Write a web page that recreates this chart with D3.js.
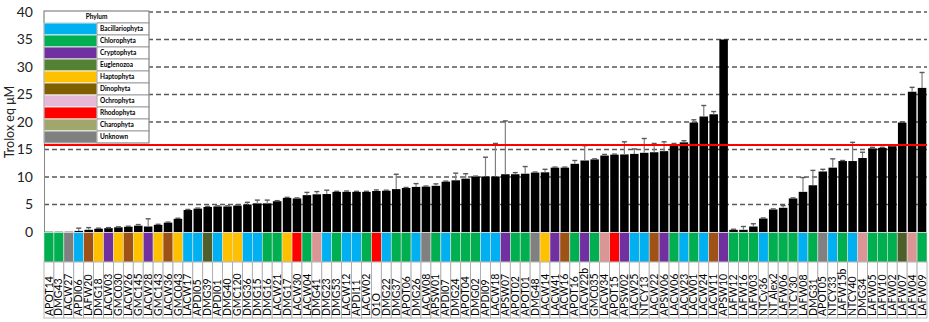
<!DOCTYPE html>
<html>
<head>
<meta charset="utf-8">
<script src="https://cdn.jsdelivr.net/npm/d3@7/dist/d3.min.js"></script>
<style>
  html, body { margin: 0; padding: 0; background: #fff; }
  svg { display: block; }
</style>
</head>
<body>
<svg id="chart" width="929" height="322"></svg>
<script>
// Strains, ordered as plotted
const categories = [
  "APOT14","DMG43","LACW27","APDI06","LAFW20","DMG18","LACW03","GMC030","LACW26","GMC145",
  "LACW28","GMC143","LACW36","GMC043","LACW17","APDI05","DMG39","APDI01","DMG40","GMC120",
  "DMG36","DMG15","DMG16","LACW21","DMG17","LACW30","LACW04","DMG41","DMG23","DMG53",
  "LACW12","APDI11","LACW02","O1O","DMG22","DMG37","APOT06","DMG26","LACW08","APSW01",
  "APDI07","DMG24","APOT04","DMG02","APDI09","LACW18","APSW07","APOT02","APOT01","DMG48",
  "LACW14","LACW41","LACW16","APOT16","LACW22b","GMC035","LACW34","APOT15","APSW02","LACW25",
  "NTCY13","LACW22","APSW06","LACW06","LACW23","LACW01","LACW24","LACW11","APSW10","LAFW12",
  "LAFW16","LAFW03","NTCy36","NT Alex2","LAFW06","NTCY30","LAFW08","DMG31","APOT05","NTCY33",
  "LAFW15b","NTCY40","DMG34","LAFW05","LAFW10","LAFW02","LAFW07","LAFW04","LAFW09"
];

// Antioxidant capacity, Trolox equivalents (µM)
const values = [
  0.05,0.05,0.05,0.2,0.4,0.6,0.7,0.85,0.95,1.15,
  1.0,1.3,1.7,2.4,4.0,4.25,4.55,4.65,4.65,4.8,
  5.0,5.2,5.2,5.6,6.2,6.1,6.7,6.85,6.9,7.3,
  7.3,7.3,7.3,7.45,7.5,7.8,8.0,8.2,8.25,8.4,
  9.15,9.4,9.7,10.06,10.1,10.1,10.5,10.5,10.6,10.8,
  10.85,11.7,11.7,12.4,13.0,13.2,13.9,14.06,14.1,14.2,
  14.4,14.5,14.7,16.0,16.3,19.9,21.0,21.4,35.0,0.4,
  0.4,1.0,2.45,4.1,4.4,6.1,7.3,8.5,11.0,11.7,
  12.9,12.9,13.45,15.2,15.3,15.6,19.9,25.5,26.2
];

// Standard deviation
const errors = [
  0,0,0,0.5,0.4,0.1,0.1,0.1,0.1,0.2,
  1.4,0.1,0.1,0.1,0.1,0.1,0.1,0.1,0.1,0.1,
  0.4,0.6,0.6,0.1,0.1,0.1,0.5,0.5,0.7,0.1,
  0.15,0.1,0.1,0.2,0.1,2.7,0.1,0.6,0.1,0.35,
  0.1,1.3,0.9,0.1,3.5,6.0,9.7,0.3,1.3,0.1,
  0.55,0.1,0.1,0.6,2.7,0.1,0.2,0.1,2.3,0.9,
  2.6,1.6,1.7,0.1,0.3,0.5,2.0,0.5,0,0.1,
  0.6,0.5,0.1,0.1,0.4,0.1,2.6,2.7,0.4,1.6,
  0.1,3.4,1.05,0.2,0.1,0.1,0.1,0.8,2.8
];

// Phylum of each strain
const B = "Bacillariophyta", C = "Chlorophyta", Cr = "Cryptophyta", E = "Euglenozoa",
      Hp = "Haptophyta", D = "Dinophyta", O = "Ochrophyta", R = "Rhodophyta",
      Ch = "Charophyta", U = "Unknown";
const phylum = [
  C,C,U,B,D,Hp,Cr,Hp,D,Hp,
  Cr,Hp,D,Hp,B,B,E,B,Hp,Hp,
  B,B,C,C,Hp,R,C,O,B,C,
  B,B,C,R,B,C,C,B,U,C,
  B,C,C,C,B,B,Cr,C,C,U,
  Hp,Cr,D,C,Cr,C,O,R,Cr,B,
  B,D,Cr,C,B,C,B,D,Cr,C,
  C,C,B,C,C,C,B,C,U,B,
  C,B,O,C,C,C,E,O,C
];

const phyla = [B, C, Cr, E, Hp, D, O, R, Ch, U];
const yTicks = [0,5,10,15,20,25,30,35,40];
const threshold = 15.8;

// Colours: legend swatches and the phylum strip under the bars
const legendColor = {
  [B]:"#00B0F0",[C]:"#00B050",[Cr]:"#7030A0",[E]:"#548235",[Hp]:"#FFC000",
  [D]:"#7F6000",[O]:"#E6B9D8",[R]:"#FF0000",[Ch]:"#A0A66C",[U]:"#808080"
};
const stripColor = {
  [B]:"#00B0F0",[C]:"#00B050",[Cr]:"#7030A0",[E]:"#4F5F2A",[Hp]:"#FFC000",
  [D]:"#9E5216",[O]:"#DA9694",[R]:"#FF0000",[Ch]:"#A0A66C",[U]:"#808080"
};

const svg = d3.select("#chart");
const plotLeft = 44, plotRight = 927, plotTop = 12, base = 232;
const stripBottom = 262, labelBottom = 318;
const font = "Lato, 'Open Sans', sans-serif";

const x = d3.scaleBand().domain(categories).range([plotLeft, plotRight]).padding(0);
const y = d3.scaleLinear().domain([0, 40]).range([base, plotTop]);
const bw = x.bandwidth();
const inset = 0.7;

const data = categories.map((c, i) => ({ c, v: values[i], e: errors[i], p: phylum[i] }));

// dashed gridlines
svg.append("g").selectAll("line").data(yTicks.filter(t => t > 0)).join("line")
  .attr("x1", plotLeft).attr("x2", plotRight)
  .attr("y1", d => y(d)).attr("y2", d => y(d))
  .attr("stroke", "#595959").attr("stroke-width", 1.3)
  .attr("stroke-dasharray", "5,3");

// y axis
const yAxis = d3.axisLeft(y).tickValues(yTicks).tickSize(0).tickPadding(11);
const ga = svg.append("g").attr("transform", `translate(${plotLeft},0)`).call(yAxis);
ga.select(".domain").attr("stroke", "#868686").attr("stroke-width", 1);
ga.selectAll("text").attr("font-family", font)
  .attr("font-size", 14).attr("fill", "#222");

svg.append("text")
  .attr("transform", `translate(14,${(plotTop + base) / 2}) rotate(-90)`)
  .attr("text-anchor", "middle")
  .attr("font-family", font)
  .attr("font-size", 12.5).attr("fill", "#222")
  .text("Trolox eq μM");

// bars
svg.append("g").selectAll("rect").data(data).join("rect")
  .attr("x", d => x(d.c) + inset)
  .attr("width", bw - 2 * inset)
  .attr("y", d => y(d.v))
  .attr("height", d => base - y(d.v))
  .attr("fill", "#000");

// error bars
const eg = svg.append("g").selectAll("g").data(data.filter(d => d.e > 0)).join("g");
eg.append("line")
  .attr("x1", d => x(d.c) + bw / 2).attr("x2", d => x(d.c) + bw / 2)
  .attr("y1", d => y(d.v)).attr("y2", d => y(d.v + d.e))
  .attr("stroke", "#7f7f7f").attr("stroke-width", 1.2);
eg.append("line")
  .attr("x1", d => x(d.c) + bw / 2 - 2.5).attr("x2", d => x(d.c) + bw / 2 + 2.5)
  .attr("y1", d => y(d.v + d.e)).attr("y2", d => y(d.v + d.e))
  .attr("stroke", "#595959").attr("stroke-width", 1.4);

// threshold line
svg.append("line")
  .attr("x1", plotLeft).attr("x2", plotRight)
  .attr("y1", y(threshold)).attr("y2", y(threshold))
  .attr("stroke", "#FF0000").attr("stroke-width", 2);

// phylum strip
svg.append("g").selectAll("rect").data(data).join("rect")
  .attr("x", d => x(d.c)).attr("width", bw)
  .attr("y", base + 0.5).attr("height", stripBottom - base - 0.5)
  .attr("fill", d => stripColor[d.p])
  .attr("stroke", "#e0e0e0").attr("stroke-width", 0.6);

// strain label cells
const lg = svg.append("g").selectAll("g").data(data).join("g");
lg.append("rect")
  .attr("x", d => x(d.c)).attr("width", bw)
  .attr("y", stripBottom).attr("height", labelBottom - stripBottom)
  .attr("fill", "#fff").attr("stroke", "#a6a6a6").attr("stroke-width", 0.8);
lg.append("text")
  .attr("transform", d => `translate(${x(d.c) + bw / 2 + 3.6},${labelBottom - 2}) rotate(-90)`)
  .attr("font-family", font)
  .attr("font-size", 10.5).attr("fill", "#000")
  .text(d => d.c);

// legend table
const L = svg.append("g").attr("transform", "translate(44,11)");
const lw = 105, sw = 53, hh = 12, rh = 12;
L.append("rect").attr("width", lw).attr("height", hh)
  .attr("fill", "#fff").attr("stroke", "#8c8c8c").attr("stroke-width", 0.8);
L.append("text").attr("x", lw / 2).attr("y", hh / 2 + 2.2)
  .attr("text-anchor", "middle")
  .attr("font-family", font)
  .attr("font-size", 6.5).attr("font-weight", "bold").text("Phylum");
const rows = L.selectAll("g.row").data(phyla).join("g").attr("class", "row")
  .attr("transform", (d, i) => `translate(0,${hh + i * rh})`);
rows.append("rect").attr("width", sw).attr("height", rh)
  .attr("fill", d => legendColor[d]).attr("stroke", "#fff").attr("stroke-width", 0.8);
rows.append("rect").attr("x", sw).attr("width", lw - sw).attr("height", rh)
  .attr("fill", "#fff").attr("stroke", "#8c8c8c").attr("stroke-width", 0.8);
rows.append("text").attr("x", sw + 3).attr("y", rh / 2 + 2.3)
  .attr("font-family", font)
  .attr("font-size", 6.5).attr("font-weight", "bold").text(d => d);
L.append("rect").attr("width", lw).attr("height", hh + phyla.length * rh)
  .attr("fill", "none").attr("stroke", "#8c8c8c").attr("stroke-width", 0.8);
</script>
</body>
</html>
